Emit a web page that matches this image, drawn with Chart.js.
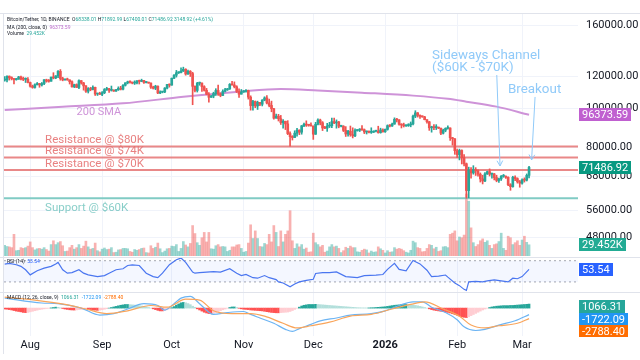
<!DOCTYPE html>
<html><head><meta charset="utf-8">
<script src="https://cdn.jsdelivr.net/npm/chart.js@4.4.1/dist/chart.umd.min.js"></script>
<style>
html,body{margin:0;padding:0;background:#fff;}
#wrap{position:relative;width:640px;height:360px;overflow:hidden;background:#fff;}
canvas{position:absolute;left:0;}
</style></head><body>
<div id="wrap">
<canvas id="cMain" width="640" height="257" style="top:0px"></canvas>
<canvas id="cRsi" width="640" height="35" style="top:257px"></canvas>
<canvas id="cMacd" width="640" height="68" style="top:292px"></canvas>
</div>
<script>
// ---------------- DATA (daily candles, Jul 21 2025 .. Mar 4 2026; prices in thousands USDT) ----------------
const PRICE_UNIT = 1000;
const symbolTitle = 'Bitcoin/Tether, 1D, BINANCE';
const open = [
117.3,117.4,119.9,118.8,118.3,117.6,117.9,119.4,117.9,117.8,
117.8,115.7,113.3,112.5,114.2,115.0,114.1,115.0,117.5,116.6,
116.5,119.3,118.7,120.1,123.3,118.3,117.4,117.5,117.4,116.2,
112.9,114.3,112.5,116.9,115.4,113.5,110.1,111.8,111.2,112.6,
108.4,108.8,108.2,109.2,111.2,111.7,110.7,110.7,110.2,111.1,
112.0,111.4,113.9,115.5,116.1,115.9,115.3,115.4,116.8,116.4,
117.1,115.7,115.7,115.3,112.7,112.0,113.3,109.0,109.6,109.7,
112.1,114.4,114.0,118.6,120.6,122.3,122.4,123.5,124.7,121.4,
123.3,121.7,113.2,110.6,115.2,115.3,113.0,110.7,108.2,106.4,
107.2,108.6,110.6,108.4,107.5,110.0,111.0,111.6,114.5,114.1,
112.9,110.0,108.3,109.6,110.1,110.6,106.5,101.5,103.9,101.3,
103.4,102.3,104.7,106.0,103.0,101.6,99.7,94.5,95.6,94.2,
92.2,92.9,91.5,86.6,85.1,84.7,86.8,88.3,87.3,90.5,
91.3,90.9,90.8,90.4,86.3,91.3,93.5,92.1,89.4,89.3,
90.4,90.6,92.7,92.0,92.5,90.3,90.3,88.2,86.4,87.8,
86.1,85.5,88.1,88.3,88.6,88.5,87.4,87.6,87.2,87.3,
87.8,87.8,87.1,88.4,87.5,88.7,90.6,90.4,91.4,93.9,
93.6,91.3,90.9,90.5,90.6,91.0,91.5,95.6,97.4,96.0,
95.5,95.2,93.7,92.6,89.5,90.0,89.6,89.8,89.3,86.8,
88.3,89.2,89.4,84.6,84.1,78.6,76.9,78.7,75.6,73.0,
62.7,70.5,69.3,70.6,70.1,68.8,67.0,66.2,68.9,69.8,
68.8,68.9,67.5,66.4,67.0,68.0,68.0,67.6,64.8,64.1,
67.6,67.1,65.9,65.4,66.6,66.5,68.33801];
const high = [
119.7,120.2,120.1,119.5,118.4,118.4,119.8,119.9,119.3,118.8,
118.9,116.0,114.0,114.8,115.7,115.1,115.7,117.6,117.9,117.7,
119.3,122.3,120.3,123.7,124.5,119.2,117.9,118.6,117.5,116.8,
114.6,114.8,117.4,117.0,115.8,113.7,112.4,112.6,113.5,112.7,
108.9,109.5,109.9,111.8,112.6,112.0,113.4,111.0,111.3,112.9,
113.2,114.3,115.5,116.6,116.8,116.0,116.8,117.0,117.3,117.9,
117.2,116.3,115.9,115.4,113.3,113.9,113.5,110.3,109.8,112.4,
114.5,114.8,118.6,121.0,123.9,122.9,125.7,126.2,125.1,124.2,
123.8,122.6,113.5,115.8,116.0,115.4,113.6,111.9,109.2,107.5,
109.5,111.7,114.0,109.1,111.0,112.0,111.9,115.0,116.4,116.1,
113.6,111.6,111.2,110.6,111.2,110.8,107.3,104.5,104.2,104.1,
103.4,105.0,106.7,107.5,105.3,104.1,99.9,96.8,96.6,96.0,
93.8,92.9,93.2,87.5,85.6,88.0,89.2,88.5,90.7,91.9,
93.1,91.2,92.0,90.4,92.3,94.2,94.0,92.7,90.3,91.8,
92.3,94.6,94.5,93.6,92.8,90.7,90.6,90.1,88.2,90.4,
89.5,89.0,88.6,89.1,90.6,88.9,87.9,88.0,89.5,88.0,
88.0,90.3,89.3,89.0,88.9,91.0,91.2,91.9,94.7,94.4,
93.8,91.6,91.9,91.0,91.6,92.5,96.2,98.6,97.6,96.3,
95.8,95.5,93.8,92.8,90.3,91.1,91.1,89.9,89.4,88.8,
89.5,90.5,89.5,84.8,84.2,79.3,79.3,79.0,76.9,73.3,
71.6,71.4,72.2,71.4,70.5,69.3,68.4,69.4,70.0,70.9,
69.2,69.1,68.4,67.3,68.3,68.7,68.2,67.8,65.2,68.0,
68.2,67.4,66.4,67.0,67.4,68.9,71.89299];
const low = [
116.5,116.1,117.3,117.4,114.7,117.2,117.8,117.4,116.9,115.7,
115.5,112.7,112.0,112.0,114.1,112.6,113.4,114.3,115.9,115.9,
116.5,118.1,118.2,118.9,117.2,116.8,117.2,117.2,114.7,112.7,
112.4,112.4,111.7,114.6,110.8,109.3,109.0,110.4,110.9,107.5,
107.5,108.1,107.3,108.6,110.6,109.3,110.2,110.0,110.0,110.6,
110.9,110.9,113.4,114.8,115.3,114.8,114.4,114.8,114.7,116.2,
115.1,115.4,115.2,111.9,111.5,111.1,108.6,108.6,109.1,109.2,
111.6,112.7,113.9,118.3,119.3,121.7,122.1,123.1,120.6,121.1,
119.7,102.0,109.7,109.6,113.9,110.0,110.2,107.9,103.5,106.3,
106.1,107.5,107.5,106.7,107.4,109.7,110.6,111.2,114.0,112.2,
109.3,106.3,108.3,109.4,109.5,105.3,98.9,98.9,100.3,99.3,
101.4,101.3,104.3,102.5,100.8,98.0,94.0,94.5,93.0,91.2,
89.3,88.6,86.1,80.6,83.5,84.7,85.3,86.1,86.3,90.1,
90.2,90.3,90.4,83.8,86.2,91.0,91.0,88.1,89.0,87.7,
89.6,89.5,91.6,89.3,89.5,89.9,87.6,85.2,85.3,85.3,
84.5,85.1,87.8,87.6,88.2,86.6,86.4,86.9,86.7,87.1,
87.4,86.8,86.8,87.3,87.2,88.3,89.9,90.2,91.3,92.5,
90.8,89.4,89.9,90.2,90.2,90.0,91.0,94.8,95.1,94.4,
95.0,93.6,91.9,88.2,87.3,88.5,88.6,89.1,86.1,86.4,
87.5,88.8,83.3,81.1,77.0,75.7,74.6,72.9,72.1,60.0,
60.2,67.3,68.8,68.3,68.0,65.8,65.1,65.9,68.7,68.1,
67.3,66.6,65.9,65.7,66.4,67.6,67.2,64.5,62.8,63.9,
66.3,65.4,63.9,65.0,65.8,66.2,67.40001];
const close = [
117.4,119.9,118.8,118.3,117.6,117.9,119.4,117.9,117.8,117.8,
115.7,113.3,112.5,114.2,115.0,114.1,115.0,117.5,116.6,116.5,
119.3,118.7,120.1,123.3,118.3,117.4,117.5,117.4,116.2,112.9,
114.3,112.5,116.9,115.4,113.5,110.1,111.8,111.2,112.6,108.4,
108.8,108.2,109.2,111.2,111.7,110.7,110.7,110.2,111.1,112.0,
111.4,113.9,115.5,116.1,115.9,115.3,115.4,116.8,116.4,117.1,
115.7,115.7,115.3,112.7,112.0,113.3,109.0,109.6,109.7,112.1,
114.4,114.0,118.6,120.6,122.3,122.4,123.5,124.7,121.4,123.3,
121.7,113.2,110.6,115.2,115.3,113.0,110.7,108.2,106.4,107.2,
108.6,110.6,108.4,107.5,110.0,111.0,111.6,114.5,114.1,112.9,
110.0,108.3,109.6,110.1,110.6,106.5,101.5,103.9,101.3,103.4,
102.3,104.7,106.0,103.0,101.6,99.7,94.5,95.6,94.2,92.2,
92.9,91.5,86.6,85.1,84.7,86.8,88.3,87.3,90.5,91.3,
90.9,90.8,90.4,86.3,91.3,93.5,92.1,89.4,89.3,90.4,
90.6,92.7,92.0,92.5,90.3,90.3,88.2,86.4,87.8,86.1,
85.5,88.1,88.3,88.6,88.5,87.4,87.6,87.2,87.3,87.8,
87.8,87.1,88.4,87.5,88.7,90.6,90.4,91.4,93.9,93.6,
91.3,90.9,90.5,90.6,91.0,91.5,95.6,97.4,96.0,95.5,
95.2,93.7,92.6,89.5,90.0,89.6,89.8,89.3,86.8,88.3,
89.2,89.4,84.6,84.1,78.6,76.9,78.7,75.6,73.0,62.7,
70.5,69.3,70.6,70.1,68.8,67.0,66.2,68.9,69.8,68.8,
68.9,67.5,66.4,67.0,68.0,68.0,67.6,64.8,64.1,67.6,
67.1,65.9,65.4,66.6,66.5,68.338,71.48692];
// volume, thousands of BTC
const volumeK = [
28,25,24,22,57,14,15,22,20,22,26,
37,22,16,19,20,18,22,17,13,30,
40,30,35,38,27,12,13,22,28,18,
22,30,20,26,39,24,18,20,34,14,11,
18,21,17,18,22,9,10,16,17,20,20,
19,12,10,17,15,17,20,21,9,8,27,
20,23,34,19,9,13,19,20,
26,25,30,12,20,38,29,24,33,
80,59,35,28,48,62,37,62,19,18,
27,30,24,25,24,12,15,24,24,29,30,20,
10,12,34,82,46,66,46,25,24,33,
30,57,37,80,62,25,66,37,57,66,119,40,
20,32,24,30,18,21,10,11,
60,35,30,24,28,10,13,24,30,24,26,20,9,
14,23,20,26,22,22,11,10,15,18,16,8,13,10,11,24,19,15,
8,14,10,11,22,18,20,18,14,10,8,15,39,
35,22,20,11,12,20,30,28,19,23,12,14,24,25,22,57,60,66,
40,50,48,55,163,144,74,35,25,30,40,45,36,40,
28,20,30,32,38,60,20,15,52,48,30,35,40,28,42,52,36,29.452];
// 200-day SMA read at sample days (thousands)
const smaDays   = [0,25,51,77,101,119,135,154,176,191,199,212,226];
const smaValues = [99.0,100.8,102.8,106.7,109.8,111.5,110.6,109.2,107.4,105.5,103.8,100.9,96.37359];
// RSI(14) read at sample days
const rsiDays = [0,2,5,7,9,11,14,17,20,22,23,25,27,29,32,34,36,40,43,45,48,51,53,55,58,61,64,66,68,71,
74,76,78,81,82,84,87,90,93,97,100,102,104,107,109,112,114,117,118,120,123,125,127,130,133,134,137,140,143,147,
152,155,160,163,165,168,170,173,176,179,182,184,187,190,191,194,196,198,199,200,203,206,208,211,214,217,219,221,223,226];
const rsiValues = [63.7,64.9,62.4,59.3,52.9,43.3,51,56,59.3,63.7,66.8,52.9,46.5,47.5,52.9,46.5,43.3,40.1,42,46.5,
52.9,54.8,61,62,61,46.5,40,38,46.5,62.4,71.9,75,66.8,48.6,46.5,47.5,48.6,49.5,48.6,54.8,
46.5,42,44,38,37,42,38,34.4,30,28,20.8,26,30,33,35,46,47.5,47.5,49,40,
38,42,43,44,53.6,65,53.6,51,70.5,64,52,40,41,43,39,28,23,16,14,30,
31,30,32,34,32,30,37,36,40,53.54];
// MACD(12,26,9)
const macdDays = [0,16,23,33,41,47,53,60,66,69,73,76,80,84,90,96,103,106,110,116,121,124,127,132,136,143,149,158,164,170,176,180,184,190,195,198,203,207,213,220,226];
const macdValues = [2650,1350,1170,0,-1855,-1480,-240,1170,690,-530,1170,2650,3080,1170,-1670,-1190,-900,-1670,-2620,-4030,
-5640,-6200,-5450,-4320,-3370,-2620,-1855,-1480,-720,690,1640,1640,240,-1190,-3080,-4980,-5940,-5640,-4500,-3370,-1722.09];
const signalDays = [0,13,26,35,44,53,63,70,78,84,90,98,106,112,120,126,132,140,149,158,167,175,181,189,196,201,207,213,221,226];
const signalValues = [2900,2120,980,-240,-1480,-720,690,240,2390,2120,-720,-1480,-1480,-2140,-4030,-5270,-4690,-3740,-2140,-1670,
-240,980,1640,-240,-2140,-4500,-5270,-4690,-4030,-2788.40];
const histValues = [
-250,-300,-400,-500,-650,-800,-900,-1000,-1150,-1200,-1150,-1000,-850,-700,
-550,-400,-300,-200,-100,-50,50,
150,250,200,50,
-100,-250,-350,-450,-500,-520,-480,-400,-350,-250,-150,
-300,-400,-500,-550,-600,-550,-450,-300,-150,
0,150,300,450,600,750,850,950,950,900,850,800,750,650,550,450,
300,150,0,-200,-400,-600,-750,-750,-650,-450,-200,
100,400,800,1100,1400,1500,1400,1200,900,
500,200,-200,-500,
-800,-1100,-1300,-1450,-1500,-1400,-1200,-950,-700,
-450,-250,-50,150,300,300,150,
-50,-200,-300,-350,-400,-500,-550,-600,-650,-700,
-750,-850,-950,-1050,-1150,-1200,-1250,-1250,-1200,-1150,-1100,-1050,-900,-650,-350,
-50,250,550,750,850,950,950,950,1000,950,900,850,800,750,700,650,600,550,500,450,400,350,300,250,200,
150,100,80,60,50,40,50,80,100,150,200,250,300,
350,450,550,650,750,800,850,900,950,950,900,850,800,
700,600,450,300,150,0,
-200,-400,-550,-650,-750,-850,-950,-1050,-1150,-1300,-1500,-1700,-1900,-2100,-2300,-2450,-2500,-2300,-2000,
-1700,-1400,-1100,-800,-500,-250,-50,
150,300,400,500,550,600,650,650,650,700,700,750,800,850,900,950,1000,1066.31];
// drawn horizontal levels
const levelNames  = ['Resistance @ $80K','Resistance @ $74K','Resistance @ $70K','Support @ $60K'];
const levelValues = [80500,75600,70500,60000];
// axis ticks
const monthTickDays   = [11,42,72,103,133,164,195,223];
const monthTickLabels = ['Aug','Sep','Oct','Nov','Dec','2026','Feb','Mar'];
const priceTicks = [48000,56000,68000,80000,100000,120000,160000];

// ---------------- VIEW / STYLE ----------------
const X_MIN = -0.3, X_MAX = 247.1;
const P_MIN = 43270, P_MAX = 170590;
const VOL_MAX = 636000;
const RSI_MIN = 11, RSI_MAX = 77, RSI_UP = 70, RSI_DN = 30;
const MACD_MIN = -7400, MACD_MAX = 4000;
const AXIS_W = 62, LEFT = 4;
const FONT = 'Roboto';
const UP = '#26a69a', DOWN = '#ef5350', DARK = '#131722';
Chart.defaults.font.family = FONT;

// annotation anchors in data coordinates (day, price)
const notes = {
  levelLabelDay: 17.4,
  sma: {text:'200 SMA', day:40.6, price:97900},
  channel: {lines:['Sideways Channel','($60K - $70K)'], day:184.2, prices:[134400,125500]},
  breakout: {text:'Breakout', day:216.9, price:110900},
  arrows: [ {from:[212.1,120700], to:[213.5,72100]}, {from:[228.6,106600], to:[227.1,74600]} ]
};

const N = close.length;
const idx = close.map((_, i) => i);
const isUp = idx.map(i => close[i] >= open[i]);
const candleColor = isUp.map(u => u ? UP : DOWN);
const volColor = isUp.map(u => u ? 'rgba(38,166,154,0.45)' : 'rgba(239,83,80,0.45)');
const histColor = histValues.map((h, i) => {
  const p = i ? histValues[i - 1] : h;
  return h >= 0 ? (h >= p ? '#26a69a' : '#b2dfdb') : (h <= p ? '#ff5252' : '#ffcdd2');
});

function xScale(showLabels) {
  return {
    type: 'linear', min: X_MIN, max: X_MAX, bounds: 'data', offset: false,
    grid: { color: '#f0f3fa', drawTicks: false, offset: false },
    border: { display: false },
    afterBuildTicks: s => { s.ticks = monthTickDays.map(v => ({ value: v })); },
    afterFit: s => { s.height = showLabels ? 24 : 0; s.paddingLeft = 0; s.paddingRight = 0; },
    ticks: {
      display: showLabels, autoSkip: false, maxRotation: 0, minRotation: 0, padding: 3, color: DARK,
      font: c => ({ family: FONT, size: 11, weight: (c.tick && monthTickLabels[monthTickDays.indexOf(c.tick.value)] === '2026') ? 'bold' : 'normal' }),
      callback: v => { const k = monthTickDays.indexOf(v); return k >= 0 ? monthTickLabels[k] : ''; }
    }
  };
}

function drawBox(ctx, yc, text, bg) {
  ctx.font = '11px ' + FONT;
  const w = ctx.measureText(text).width + 6;
  ctx.fillStyle = bg;
  ctx.fillRect(579, Math.round(yc - 6.5), Math.round(w), 13);
  ctx.fillStyle = '#ffffff';
  ctx.textAlign = 'left'; ctx.textBaseline = 'middle';
  ctx.fillText(text, 582, Math.round(yc - 6.5) + 7);
}
function drawParts(ctx, x, y, parts, size) {
  ctx.font = size + 'px ' + FONT;
  ctx.textAlign = 'left'; ctx.textBaseline = 'middle';
  parts.forEach(([t, c]) => { ctx.fillStyle = c; ctx.fillText(t, x, y); x += ctx.measureText(t).width; });
}
function arrow(ctx, x1, y1, x2, y2) {
  ctx.beginPath(); ctx.moveTo(x1, y1); ctx.lineTo(x2, y2); ctx.stroke();
  const a = Math.atan2(y2 - y1, x2 - x1), L = 6;
  ctx.beginPath();
  ctx.moveTo(x2 - L * Math.cos(a - 0.5), y2 - L * Math.sin(a - 0.5));
  ctx.lineTo(x2, y2);
  ctx.lineTo(x2 - L * Math.cos(a + 0.5), y2 - L * Math.sin(a + 0.5));
  ctx.stroke();
}
function frame(ctx, h, topLine) {
  ctx.save();
  ctx.strokeStyle = '#e0e3eb'; ctx.lineWidth = 1;
  ctx.beginPath(); ctx.moveTo(3.5, topLine); ctx.lineTo(3.5, h); ctx.stroke();
  ctx.beginPath(); ctx.moveTo(0, topLine); ctx.lineTo(640, topLine); ctx.stroke();
  ctx.restore();
}

const mainPlugin = {
  id: 'mainDeco',
  afterDraw(chart) {
    const { ctx, scales: { x, y, yV } } = chart;
    ctx.save();
    frame(ctx, 257, 13.5);
    // level labels
    ctx.font = '11.5px ' + FONT; ctx.textAlign = 'left'; ctx.textBaseline = 'middle';
    levelNames.forEach((name, k) => {
      const yy = y.getPixelForValue(levelValues[k]);
      const res = name.startsWith('Resistance');
      ctx.fillStyle = res ? 'rgba(229,115,115,0.9)' : 'rgba(38,166,154,0.55)';
      ctx.fillText(name, x.getPixelForValue(notes.levelLabelDay), res ? yy - 6 : yy + 10);
    });
    // SMA label
    ctx.font = '11px ' + FONT; ctx.textAlign = 'center'; ctx.fillStyle = '#ce93d8';
    ctx.fillText(notes.sma.text, x.getPixelForValue(notes.sma.day), y.getPixelForValue(notes.sma.price));
    // channel + breakout
    ctx.font = '13.4px ' + FONT; ctx.textAlign = 'left'; ctx.fillStyle = '#90caf9';
    notes.channel.lines.forEach((t, k) => ctx.fillText(t, x.getPixelForValue(notes.channel.day), y.getPixelForValue(notes.channel.prices[k])));
    ctx.fillText(notes.breakout.text, x.getPixelForValue(notes.breakout.day), y.getPixelForValue(notes.breakout.price));
    ctx.strokeStyle = '#90caf9'; ctx.lineWidth = 1;
    notes.arrows.forEach(a => arrow(ctx, x.getPixelForValue(a.from[0]), y.getPixelForValue(a.from[1]), x.getPixelForValue(a.to[0]), y.getPixelForValue(a.to[1])));
    // legend
    const o = (open[N-1]*PRICE_UNIT).toFixed(2), h = (high[N-1]*PRICE_UNIT).toFixed(2), l = (low[N-1]*PRICE_UNIT).toFixed(2), c = (close[N-1]*PRICE_UNIT).toFixed(2);
    const ch = (close[N-1] - close[N-2]) * PRICE_UNIT, pct = ch / (close[N-2] * PRICE_UNIT) * 100;
    drawParts(ctx, 7, 20, [[symbolTitle + '  ', DARK], ['O', DARK], [o + ' ', UP], ['H', DARK], [h + ' ', UP], ['L', DARK], [l + ' ', UP], ['C', DARK], [c + ' ', UP], [ch.toFixed(2) + ' (+' + pct.toFixed(2) + '%)', UP]], 5);
    drawParts(ctx, 7, 27.3, [['MA (200, close, 0)  ', DARK], [(smaValues[smaValues.length-1]*PRICE_UNIT).toFixed(2), '#ba68c8']], 5);
    drawParts(ctx, 7, 34, [['Volume  ', DARK], [volumeK[N-1].toFixed(3) + 'K', UP]], 5);
    // value boxes
    drawBox(ctx, y.getPixelForValue(smaValues[smaValues.length-1]*PRICE_UNIT), (smaValues[smaValues.length-1]*PRICE_UNIT).toFixed(2), '#c060d0');
    drawBox(ctx, y.getPixelForValue(close[N-1]*PRICE_UNIT), c, '#089981');
    drawBox(ctx, yV.getPixelForValue(volumeK[N-1]*1000), volumeK[N-1].toFixed(3) + 'K', '#22ab94');
    ctx.restore();
  }
};

new Chart(document.getElementById('cMain'), {
  type: 'bar',
  data: { datasets: [
    { type: 'bar', data: idx.map(i => ({ x: i, y: volumeK[i] * 1000 })), yAxisID: 'yV', backgroundColor: volColor, barThickness: 2, grouped: false, order: 10 },
    ...levelValues.map((v, k) => ({ type: 'line', data: [{ x: X_MIN, y: v }, { x: X_MAX, y: v }], yAxisID: 'y',
      borderColor: levelNames[k].startsWith('Resistance') ? 'rgba(229,115,115,0.85)' : '#80cbc4', borderWidth: 2, pointRadius: 0, order: 8 })),
    { type: 'line', data: smaDays.map((d, k) => ({ x: d, y: smaValues[k] * PRICE_UNIT })), yAxisID: 'y', borderColor: '#ce93d8', borderWidth: 2, pointRadius: 0, cubicInterpolationMode: 'monotone', order: 5 },
    { type: 'bar', data: idx.map(i => ({ x: i, y: [low[i] * PRICE_UNIT, high[i] * PRICE_UNIT] })), yAxisID: 'y', backgroundColor: candleColor, barThickness: 1, grouped: false, order: 2 },
    { type: 'bar', data: idx.map(i => ({ x: i, y: [open[i] * PRICE_UNIT, close[i] * PRICE_UNIT] })), yAxisID: 'y', backgroundColor: candleColor, barThickness: 2, minBarLength: 1, grouped: false, order: 1 }
  ] },
  options: {
    responsive: false, animation: false, devicePixelRatio: 1, events: [],
    layout: { padding: { top: 14, left: LEFT, right: 0, bottom: 1 } },
    plugins: { legend: { display: false }, tooltip: { enabled: false } },
    scales: {
      x: xScale(false),
      y: { type: 'logarithmic', position: 'right', min: P_MIN, max: P_MAX, bounds: 'data',
        grid: { color: '#f0f3fa', drawTicks: false }, border: { display: false },
        afterBuildTicks: s => { s.ticks = priceTicks.map(v => ({ value: v })); },
        afterFit: s => { s.width = AXIS_W; s.paddingTop = 0; s.paddingBottom = 0; },
        ticks: { padding: 8, color: DARK, autoSkip: false, font: { family: FONT, size: 11 }, callback: v => Number(v).toFixed(2) } },
      yV: { type: 'linear', display: false, min: 0, max: VOL_MAX, bounds: 'data' }
    }
  },
  plugins: [mainPlugin]
});

const rsiPlugin = {
  id: 'rsiDeco',
  afterDraw(chart) {
    const { ctx, scales: { y } } = chart;
    ctx.save();
    frame(ctx, 35, 0.5);
    const last = rsiValues[rsiValues.length - 1];
    drawParts(ctx, 7, 5, [['RSI (14)  ', DARK], [last.toFixed(2), '#2962ff']], 5);
    drawBox(ctx, y.getPixelForValue(last), last.toFixed(2), '#2962ff');
    ctx.restore();
  }
};
new Chart(document.getElementById('cRsi'), {
  type: 'line',
  data: { datasets: [
    { data: [{ x: X_MIN, y: RSI_UP }, { x: X_MAX, y: RSI_UP }], borderColor: '#a3a6af', borderWidth: 1, borderDash: [2, 3], pointRadius: 0, fill: '+1', backgroundColor: 'rgba(41,98,255,0.05)', order: 3 },
    { data: [{ x: X_MIN, y: RSI_DN }, { x: X_MAX, y: RSI_DN }], borderColor: '#a3a6af', borderWidth: 1, borderDash: [2, 3], pointRadius: 0, fill: false, order: 3 },
    { data: rsiDays.map((d, k) => ({ x: d, y: rsiValues[k] })), borderColor: '#4a76f0', borderWidth: 1.2, pointRadius: 0, fill: false, order: 1 }
  ] },
  options: {
    responsive: false, animation: false, devicePixelRatio: 1, events: [],
    layout: { padding: { top: 0, left: LEFT, right: AXIS_W, bottom: 0 } },
    plugins: { legend: { display: false }, tooltip: { enabled: false } },
    scales: { x: xScale(false), y: { display: false, min: RSI_MIN, max: RSI_MAX, bounds: 'data' } }
  },
  plugins: [rsiPlugin]
});

const MACD_BOX_SHIFT = 2.5;
const macdPlugin = {
  id: 'macdDeco',
  afterDraw(chart) {
    const { ctx, scales: { y }, chartArea: a } = chart;
    ctx.save();
    frame(ctx, 62, 0.5);
    const hv = histValues[N - 1], mv = macdValues[macdValues.length - 1], sv = signalValues[signalValues.length - 1];
    drawParts(ctx, 7, 6, [['MACD (12, 26, close, 9)  ', DARK], [hv.toFixed(2) + '  ', '#26a69a'], [mv.toFixed(2) + '  ', '#2196f3'], [sv.toFixed(2), '#ff6d00']], 5);
    const items = [{ v: hv, c: '#26a69a' }, { v: mv, c: '#2196f3' }, { v: sv, c: '#ff6d00' }]
      .map(o => ({ ...o, y: y.getPixelForValue(o.v) + MACD_BOX_SHIFT })).sort((p, q) => p.y - q.y);
    for (let k = 1; k < items.length; k++) if (items[k].y < items[k - 1].y + 12.7) items[k].y = items[k - 1].y + 12.7;
    ctx.beginPath(); ctx.rect(570, 0, 70, a.bottom + 1); ctx.clip();
    items.forEach(o => drawBox(ctx, o.y, o.v.toFixed(2), o.c));
    ctx.restore();
  }
};
new Chart(document.getElementById('cMacd'), {
  type: 'bar',
  data: { datasets: [
    { type: 'bar', data: idx.map(i => ({ x: i, y: histValues[i] })), backgroundColor: histColor, barThickness: 2, grouped: false, order: 5 },
    { type: 'line', data: macdDays.map((d, k) => ({ x: d, y: macdValues[k] })), borderColor: '#6cb4f3', borderWidth: 1.2, pointRadius: 0, cubicInterpolationMode: 'monotone', order: 2 },
    { type: 'line', data: signalDays.map((d, k) => ({ x: d, y: signalValues[k] })), borderColor: '#f9a55b', borderWidth: 1.2, pointRadius: 0, cubicInterpolationMode: 'monotone', order: 1 }
  ] },
  options: {
    responsive: false, animation: false, devicePixelRatio: 1, events: [],
    layout: { padding: { top: 1, left: LEFT, right: AXIS_W, bottom: 0 } },
    plugins: { legend: { display: false }, tooltip: { enabled: false } },
    scales: { x: xScale(true), y: { display: false, min: MACD_MIN, max: MACD_MAX, bounds: 'data' } }
  },
  plugins: [macdPlugin]
});
</script>
</body></html>
